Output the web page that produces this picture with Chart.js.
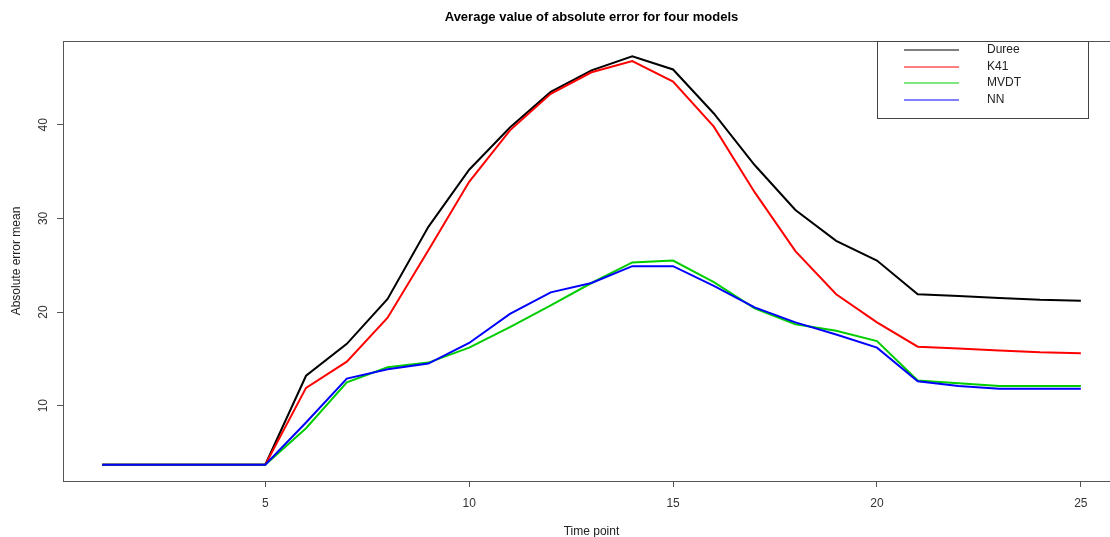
<!DOCTYPE html>
<html>
<head>
<meta charset="utf-8">
<script src="https://cdn.jsdelivr.net/npm/chart.js@4.4.1/dist/chart.umd.min.js"></script>
<style>
  html, body { margin: 0; padding: 0; background: #fff; overflow: hidden; }
  canvas { display: block; }
</style>
</head>
<body>
<canvas id="chart" width="1130" height="537"></canvas>
<script>
// data
const timePoints = [1, 2, 3, 4, 5, 6, 7, 8, 9, 10, 11, 12, 13, 14, 15, 16, 17, 18, 19, 20, 21, 22, 23, 24, 25];
const duree = [3.7, 3.7, 3.7, 3.7, 3.7, 13.2, 16.6, 21.4, 29.1, 35.2, 39.7, 43.5, 45.8, 47.3, 45.9, 41.2, 35.7, 30.9, 27.6, 25.5, 21.9, 21.7, 21.5, 21.3, 21.2];
const k41 = [3.7, 3.7, 3.7, 3.7, 3.7, 11.9, 14.7, 19.4, 26.6, 33.9, 39.4, 43.3, 45.6, 46.8, 44.6, 39.8, 32.8, 26.5, 21.9, 18.9, 16.3, 16.1, 15.9, 15.7, 15.6];
const mvdt = [3.7, 3.7, 3.7, 3.7, 3.7, 7.6, 12.5, 14.1, 14.6, 16.2, 18.4, 20.7, 23.1, 25.3, 25.5, 23.2, 20.4, 18.7, 18.0, 16.9, 12.7, 12.4, 12.1, 12.1, 12.1];
const nn = [3.7, 3.7, 3.7, 3.7, 3.7, 8.2, 12.9, 13.9, 14.5, 16.7, 19.8, 22.1, 23.1, 24.9, 24.9, 22.8, 20.5, 18.9, 17.6, 16.2, 12.6, 12.1, 11.8, 11.8, 11.8];

const seriesNames = ["Duree", "K41", "MVDT", "NN"];
const xTicks = [5, 10, 15, 20, 25];
const yTicks = [10, 20, 30, 40];

const FONT = "'Liberation Sans', Arial, sans-serif";
const colors = ["#000000", "#ff0000", "#00cd00", "#0000ff"];

function toPoints(values) {
    return timePoints.map((t, i) => ({ x: t, y: values[i] }));
}

// box around the plot region, like R's box()
const boxPlugin = {
    id: "box",
    afterDraw(chart) {
        const a = chart.chartArea;
        const ctx = chart.ctx;
        ctx.save();
        ctx.strokeStyle = "#555";
        ctx.lineWidth = 1;
        ctx.strokeRect(Math.round(a.left) + 0.5, Math.round(a.top) + 0.5,
            Math.round(a.right - a.left), Math.round(a.bottom - a.top));
        ctx.restore();
    }
};

// R style legend in the top right corner
const rLegend = {
    id: "rLegend",
    afterDraw(chart) {
        const a = chart.chartArea;
        const ctx = chart.ctx;
        const x0 = a.right - 243;
        const y0 = a.top;
        ctx.save();
        ctx.strokeStyle = "#444";
        ctx.lineWidth = 1;
        ctx.strokeRect(x0 + 0.5, y0 + 0.5, 211, 77);
        ctx.font = "12px " + FONT;
        ctx.textBaseline = "middle";
        ctx.textAlign = "left";
        chart.data.datasets.forEach((ds, i) => {
            const y = Math.round(y0 + 9 + i * 16.7);
            ctx.lineWidth = 1;
            ctx.strokeStyle = ds.borderColor;
            ctx.beginPath();
            ctx.moveTo(x0 + 27, y);
            ctx.lineTo(x0 + 82, y);
            ctx.stroke();
            ctx.fillStyle = "#222";
            ctx.fillText(ds.label, x0 + 110, y);
        });
        ctx.restore();
    }
};

const datasets = [duree, k41, mvdt, nn].map((vals, i) => ({
    label: seriesNames[i],
    data: toPoints(vals),
    borderColor: colors[i],
    backgroundColor: colors[i],
    borderWidth: 2,
    pointRadius: 0,
    tension: 0,
    fill: false,
    order: 4 - i
}));

new Chart(document.getElementById("chart"), {
    type: "line",
    data: { datasets: datasets },
    options: {
        responsive: false,
        animation: false,
        layout: { padding: { top: 0, left: 0, right: 10, bottom: 0 } },
        plugins: {
            legend: { display: false },
            tooltip: { enabled: false },
            title: {
                display: true,
                fullSize: false,
                text: "Average value of absolute error for four models",
                color: "#000",
                font: { family: FONT, size: 13, weight: "bold" },
                padding: { top: 9.5, bottom: 15.9 }
            }
        },
        scales: {
            x: {
                type: "linear",
                min: 0.04,
                max: 25.96,
                afterBuildTicks: s => { s.ticks = xTicks.map(v => ({ value: v })); },
                afterFit: s => { s.height = 56; },
                border: { display: false },
                grid: { drawOnChartArea: false, drawTicks: true, tickLength: 6, color: "#555" },
                ticks: { color: "#333", font: { family: FONT, size: 12 }, padding: 9, maxRotation: 0 },
                title: {
                    display: true,
                    text: "Time point",
                    color: "#222",
                    font: { family: FONT, size: 12 },
                    padding: { top: 0, bottom: -2 }
                }
            },
            y: {
                type: "linear",
                min: 1.96,
                max: 48.94,
                afterBuildTicks: s => { s.ticks = yTicks.map(v => ({ value: v })); },
                afterFit: s => { s.width = 63; },
                border: { display: false },
                grid: { drawOnChartArea: false, drawTicks: true, tickLength: 6, color: "#555" },
                ticks: {
                    color: "#333",
                    font: { family: FONT, size: 12 },
                    padding: 7,
                    minRotation: 90,
                    maxRotation: 90,
                    crossAlign: "center"
                },
                title: {
                    display: true,
                    text: "Absolute error mean",
                    color: "#222",
                    font: { family: FONT, size: 12 },
                    padding: { top: 9, bottom: 0 }
                }
            }
        }
    },
    plugins: [boxPlugin, rLegend]
});
</script>
</body>
</html>
